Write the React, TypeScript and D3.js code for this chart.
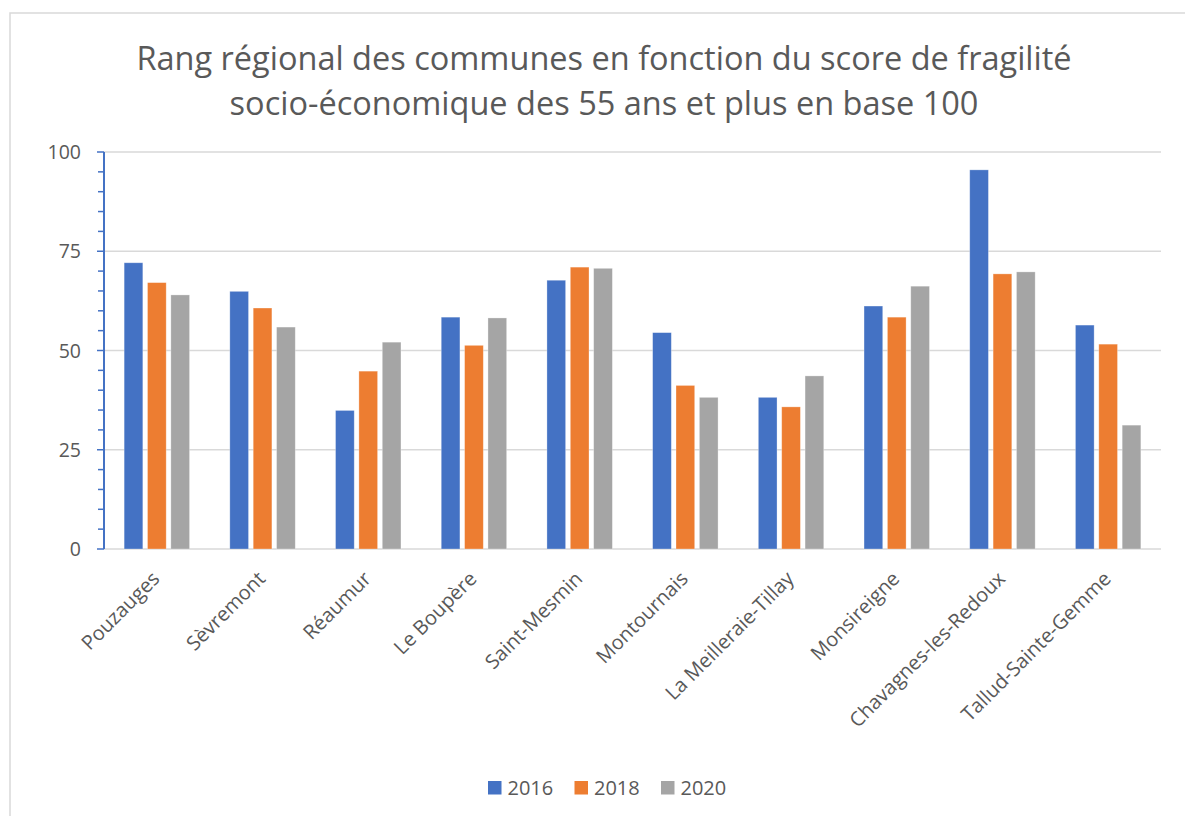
import React from "react";
import * as d3 from "d3";

const TITLE_LINES = [
  "Rang régional des communes en fonction du score de fragilité",
  "socio-économique des 55 ans et plus en base 100",
];
const CATEGORIES = [
  "Pouzauges",
  "Sèvremont",
  "Réaumur",
  "Le Boupère",
  "Saint-Mesmin",
  "Montournais",
  "La Meilleraie-Tillay",
  "Monsireigne",
  "Chavagnes-les-Redoux",
  "Tallud-Sainte-Gemme",
];
const SERIES = ["2016", "2018", "2020"];
const VALUES_2016 = [72.1, 64.9, 34.9, 58.4, 67.7, 54.5, 38.2, 61.2, 95.5, 56.4];
const VALUES_2018 = [67.1, 60.7, 44.8, 51.3, 71.0, 41.2, 35.8, 58.4, 69.3, 51.6];
const VALUES_2020 = [64.0, 55.9, 52.1, 58.2, 70.7, 38.2, 43.6, 66.2, 69.8, 31.2];
const Y_TICKS = [0, 25, 50, 75, 100];
const COLORS = ["#4472C4", "#ED7D31", "#A5A5A5"];

const W = 1185;
const H = 816;
const FONT = "'Open Sans', sans-serif";
const TEXT = "#595959";

export default function App() {
  const seriesValues = [VALUES_2016, VALUES_2018, VALUES_2020];
  const left = 104;
  const right = 1161;
  const top = 152;
  const bottom = 549;

  const x = d3
    .scaleBand<string>()
    .domain(CATEGORIES)
    .range([left, right])
    .paddingInner(0.381)
    .paddingOuter(0.1905);
  const xs = d3
    .scaleBand<string>()
    .domain(SERIES)
    .range([0, x.bandwidth()])
    .paddingInner(0.2);
  const y = d3.scaleLinear().domain([0, 100]).range([bottom, top]);
  const minorTicks = d3.range(0, 101, 5);

  return (
    <svg
      width={W}
      height={H}
      style={{ position: "absolute", left: 0, top: 0, background: "#fff" }}
      fontFamily={FONT}
    >
      <rect x={0} y={0} width={W} height={H} fill="#fff" />
      <rect x={10} y={13} width={W + 20} height={H + 20} fill="#fff" stroke="#D9D9D9" strokeWidth={1.5} />

      {TITLE_LINES.map((t, i) => (
        <text
          key={i}
          x={604}
          y={70 + i * 45}
          textAnchor="middle"
          fontSize={32.5}
          fill={TEXT}
        >
          {t}
        </text>
      ))}

      {Y_TICKS.map((t) => (
        <g key={t}>
          <line x1={left} x2={right} y1={y(t)} y2={y(t)} stroke="#D9D9D9" strokeWidth={1.5} />
          <text x={81} y={y(t)} dy="0.36em" textAnchor="end" fontSize={19.5} fill={TEXT}>
            {t}
          </text>
        </g>
      ))}

      {CATEGORIES.map((c, i) => (
        <g key={c} transform={`translate(${x(c)},0)`}>
          {SERIES.map((s, j) => (
            <rect
              key={s}
              x={xs(s)}
              y={y(seriesValues[j][i])}
              width={xs.bandwidth()}
              height={bottom - y(seriesValues[j][i])}
              fill={COLORS[j]}
              stroke="#fff"
              strokeOpacity={0.4}
              strokeWidth={0.75}
            />
          ))}
        </g>
      ))}

      <line x1={left} x2={left} y1={top} y2={bottom} stroke="#4472C4" strokeWidth={2} />
      {minorTicks.map((t) => (
        <line
          key={t}
          x1={t % 25 === 0 ? 97 : 98}
          x2={left}
          y1={y(t)}
          y2={y(t)}
          stroke="#4472C4"
          strokeWidth={1.5}
        />
      ))}

      {CATEGORIES.map((c) => {
        const cx = (x(c) as number) + x.bandwidth() / 2 + 4;
        return (
          <text
            key={c}
            transform={`translate(${cx},580) rotate(-45)`}
            textAnchor="end"
            fontSize={20}
            fill={TEXT}
          >
            {c}
          </text>
        );
      })}

      {SERIES.map((s, j) => {
        const lx = 488 + j * 86.5;
        return (
          <g key={s}>
            <rect x={lx} y={781} width={13.5} height={13.5} fill={COLORS[j]} />
            <text x={lx + 19.5} y={795} fontSize={20} fill={TEXT}>
              {s}
            </text>
          </g>
        );
      })}
    </svg>
  );
}
